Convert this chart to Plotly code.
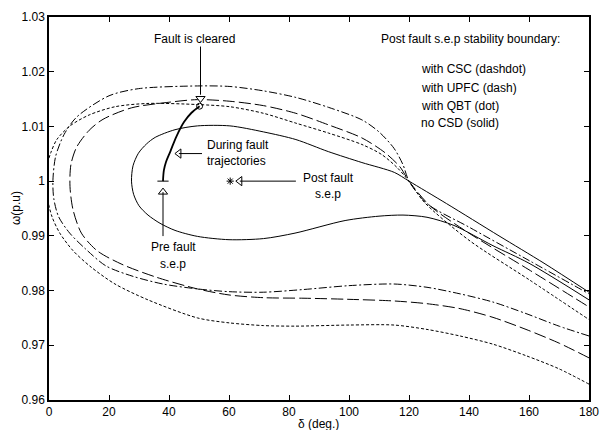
import plotly.graph_objects as go

# Post-fault stability boundaries, traced from the lower-right end,
# around the left turning point, and back out through the saddle.
csc_delta = [180, 170, 159, 148, 137, 126, 115, 100, 85, 71.5, 60, 49.5, 38, 28, 19, 12, 6.9, 3.2, 1.6, 1.3,
             2.2, 5.0, 9.2, 20, 29.8, 49.5, 60.3, 71.5, 82.3, 93.1, 104.3, 110, 115, 118, 120, 126, 140, 160, 180]
csc_omega = [0.9717, 0.9735, 0.9758, 0.9779, 0.9794, 0.9806, 0.9812, 0.9809, 0.9802, 0.9797, 0.9798, 0.9803,
             0.9812, 0.9826, 0.9845, 0.9877, 0.9905, 0.9935, 0.9968, 1.0,
             1.0045, 1.0085, 1.0117, 1.0156, 1.0169, 1.0174, 1.0173, 1.0165, 1.0153, 1.0135, 1.0112, 1.0090,
             1.0060, 1.0030, 1.0, 0.9959, 0.9916, 0.9855, 0.9794]

upfc_delta = [180, 170, 159, 148, 137, 126, 115, 100, 85, 71.5, 60, 49.5, 36, 24.3, 16, 10.8, 8, 7,
              7.3, 9.2, 13.4, 18, 27.5, 39.7, 49.5, 60.3, 71.5, 82.3, 93.1, 104.3, 112, 117, 120, 127, 140, 160, 180]
upfc_omega = [0.9677, 0.9704, 0.9729, 0.9751, 0.9767, 0.9776, 0.9781, 0.9784, 0.9786, 0.9787, 0.9792, 0.9803,
              0.9824, 0.9848, 0.9873, 0.9905, 0.9948, 0.9990,
              1.0030, 1.0062, 1.0093, 1.0113, 1.0134, 1.0144, 1.0149, 1.0146, 1.0138, 1.0124, 1.0103, 1.0079,
              1.0052, 1.0026, 1.0, 0.9955, 0.9905, 0.9838, 0.9770]

qbt_delta = [180, 170, 159, 148, 137, 126, 115, 100, 82, 71.5, 60, 49.5, 33, 22, 14, 8, 3.6, 1.0, -0.6, -1.2,
             -0.6, 0.6, 2.6, 7, 13.4, 22, 33, 49.5, 60.3, 71.5, 82.3, 93.1, 104.3, 110.8, 116, 120, 125, 140, 160, 180]
qbt_omega = [0.9629, 0.9657, 0.9681, 0.9702, 0.9717, 0.9729, 0.9737, 0.9737, 0.9735, 0.9736, 0.9741, 0.9750,
             0.9783, 0.9812, 0.9843, 0.9873, 0.9905, 0.9935, 0.9970, 1.0,
             1.0030, 1.0052, 1.0076, 1.0101, 1.0121, 1.0136, 1.0142, 1.0140, 1.0136, 1.0124, 1.0106, 1.0088,
             1.0067, 1.0049, 1.0025, 1.0, 0.9962, 0.9892, 0.9820, 0.9747]

nocsd_delta = [180, 160, 148, 135, 126, 118, 110, 98.7, 82, 71.5, 60, 49.5, 42, 37, 33, 30, 28.2, 27.5,
               28.0, 29.8, 32.5, 35.4, 42, 49.5, 60.3, 71.5, 82.3, 93.1, 104.3, 115.1, 120, 132.5, 150, 165, 180]
nocsd_omega = [0.9783, 0.9850, 0.9882, 0.9919, 0.9934, 0.9938, 0.9936, 0.9928, 0.9905, 0.9895, 0.9893, 0.9899,
               0.9910, 0.9923, 0.9938, 0.9955, 0.9976, 1.0,
               1.0028, 1.0051, 1.0068, 1.0080, 1.0094, 1.0101, 1.0101, 1.0090, 1.0076, 1.0054, 1.0034, 1.0016,
               1.0, 0.9959, 0.9900, 0.9850, 0.9797]

# During-fault trajectory from the pre-fault s.e.p to the clearing point
fault_delta = [38.0, 38.3, 39.0, 40.5, 42.5, 45.0, 47.5, 50.2]
fault_omega = [1.0, 1.0020, 1.0035, 1.0055, 1.0082, 1.0108, 1.0125, 1.0137]

pre_sep = (38.0, 1.0)
post_sep = (60.4, 1.0)

x_ticks = [0, 20, 40, 60, 80, 100, 120, 140, 160, 180]
y_ticks = [0.96, 0.97, 0.98, 0.99, 1.0, 1.01, 1.02, 1.03]
y_tick_labels = ["0.96", "0.97", "0.98", "0.99", "1", "1.01", "1.02", "1.03"]

FONT = "Liberation Sans, Arial, Helvetica, sans-serif"
FS = 12
BLACK = "black"

fig = go.Figure()

curves = [
    (csc_delta, csc_omega, "8px,2.5px,2px,2.5px"),
    (upfc_delta, upfc_omega, "12px,4px"),
    (qbt_delta, qbt_omega, "3px,2px"),
    (nocsd_delta, nocsd_omega, "solid"),
]
for dx, wy, dash in curves:
    fig.add_trace(go.Scatter(x=dx, y=wy, mode="lines",
                             line=dict(color=BLACK, width=1, dash=dash, shape="spline", smoothing=0.8),
                             hoverinfo="skip"))

fig.add_trace(go.Scatter(x=fault_delta, y=fault_omega, mode="lines",
                         line=dict(color=BLACK, width=1.8, shape="spline"), hoverinfo="skip"))

# clearing point, pre- and post-fault equilibria
fig.add_trace(go.Scatter(x=[fault_delta[-1]], y=[fault_omega[-1]], mode="markers",
                         marker=dict(symbol="circle-open", size=6, color=BLACK, line=dict(width=1))))
fig.add_trace(go.Scatter(x=[pre_sep[0]], y=[pre_sep[1]], mode="markers",
                         marker=dict(symbol="line-ew", size=8, color=BLACK, line=dict(width=1, color=BLACK))))
fig.add_trace(go.Scatter(x=[post_sep[0]], y=[post_sep[1]], mode="markers",
                         marker=dict(symbol="asterisk", size=6, color=BLACK, line=dict(width=1, color=BLACK))))

# pointer arrows: shaft lines and open triangular heads
shapes = [
    dict(type="line", x0=50.5, x1=50.5, y0=1.0246, y1=1.0158),
    dict(type="line", x0=43.3, x1=51.0, y0=1.00504, y1=1.00504),
    dict(type="line", x0=63.6, x1=82.3, y0=1.0, y1=1.0),
    dict(type="line", x0=38.0, x1=38.0, y0=0.9980, y1=0.98996),
]
for s in shapes:
    s.update(xref="x", yref="y", line=dict(color=BLACK, width=1))

heads = [
    (50.5, 1.0151, "triangle-down"),
    (43.3, 1.00504, "triangle-left"),
    (63.6, 1.0, "triangle-left"),
    (38.0, 0.9980, "triangle-up"),
]
for hx, hy, sym in heads:
    fig.add_trace(go.Scatter(x=[hx], y=[hy], mode="markers",
                             marker=dict(symbol=sym, size=8, color="white", line=dict(width=1, color=BLACK))))

def label(text, x, y, xanchor="center", align="center"):
    return dict(text=text, x=x, y=y, xref="x", yref="y", showarrow=False, align=align,
                xanchor=xanchor, yanchor="middle", font=dict(family=FONT, size=FS, color=BLACK))

annotations = [
    label("Fault is cleared", 48.5, 1.0259),
    label("During fault<br>trajectories", 52.1, 1.0051, "left", "left"),
    label("Post fault<br>s.e.p", 93.1, 0.9991),
    label("Pre fault", 41.6, 0.9880),
    label("s.e.p", 41.3, 0.9848),
    label("Post fault s.e.p stability boundary:", 140.5, 1.0259),
    label("with CSC (dashdot)", 123.3, 1.0205, "left"),
    label("with UPFC (dash)", 123.3, 1.0171, "left"),
    label("with QBT (dot)", 123.3, 1.0138, "left"),
    label("no CSD (solid)", 123.3, 1.0106, "left"),
    dict(text="δ (deg.)", x=0.499, y=-0.0615, xref="paper", yref="paper", showarrow=False,
         xanchor="center", yanchor="middle", font=dict(family=FONT, size=FS, color=BLACK)),
    dict(text="ω(p.u)", x=-0.0619, y=0.5, xref="paper", yref="paper", showarrow=False, textangle=-90,
         xanchor="center", yanchor="middle", font=dict(family=FONT, size=FS, color=BLACK)),
]

axis_style = dict(showline=True, linecolor=BLACK, linewidth=1.5, mirror="ticks", ticks="inside",
                  ticklen=5, tickcolor=BLACK, tickwidth=1, showgrid=False, zeroline=False,
                  tickfont=dict(family=FONT, size=FS, color=BLACK))

fig.update_layout(
    width=609, height=430,
    margin=dict(l=49, r=11, t=10, b=30),
    paper_bgcolor="white", plot_bgcolor="white",
    showlegend=False,
    shapes=shapes,
    annotations=annotations,
    xaxis=dict(range=[0, 180], tickvals=x_ticks, **axis_style),
    yaxis=dict(range=[0.96, 1.03], tickvals=y_ticks, ticktext=y_tick_labels, **axis_style),
)

fig.write_html("out.html")
